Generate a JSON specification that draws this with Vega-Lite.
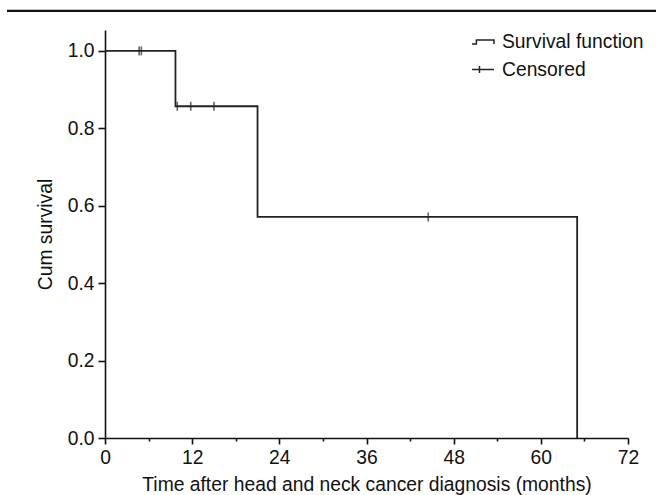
{
  "$schema": "https://vega.github.io/schema/vega-lite/v6.json",
  "autosize": "none",
  "padding": {"left": 105, "top": 30, "right": 28, "bottom": 57},
  "width": 523,
  "height": 408,
  "background": "white",
  "config": {
    "view": {"stroke": null},
    "font": "Liberation Sans",
    "axis": {
      "labelFont": "Liberation Sans",
      "titleFont": "Liberation Sans",
      "labelFontSize": 19.3,
      "titleFontSize": 19.3,
      "titleFontWeight": "normal",
      "labelColor": "#111",
      "titleColor": "#111",
      "domainColor": "#111",
      "tickColor": "#111",
      "domainWidth": 1.6,
      "tickWidth": 1.6,
      "grid": false
    }
  },
  "datasets": {
    "km": [
      {"time": 0, "surv": 1.0},
      {"time": 9.7, "surv": 0.857},
      {"time": 21, "surv": 0.571},
      {"time": 65, "surv": 0.0}
    ],
    "censored": [
      {"time": 4.7, "surv": 1.0},
      {"time": 5.0, "surv": 1.0},
      {"time": 9.95, "surv": 0.857},
      {"time": 11.8, "surv": 0.857},
      {"time": 15.0, "surv": 0.857},
      {"time": 44.5, "surv": 0.571}
    ]
  },
  "layer": [
    {
      "data": {"name": "km"},
      "mark": {"type": "line", "interpolate": "step-after", "color": "#222", "strokeWidth": 1.8},
      "encoding": {
        "x": {
          "field": "time", "type": "quantitative",
          "scale": {"domain": [0, 72], "nice": false, "zero": false},
          "axis": {
            "title": "Time after head and neck cancer diagnosis (months)",
            "values": [0, 6, 12, 18, 24, 30, 36, 42, 48, 54, 60, 66, 72],
            "labelExpr": "datum.value % 12 === 0 ? datum.label : ''",
            "tickSize": {"condition": {"test": "datum.value % 12 === 0", "value": 6}, "value": 3},
            "labelPadding": 4,
            "labelFlush": false,
            "titlePadding": 8
          }
        },
        "y": {
          "field": "surv", "type": "quantitative",
          "scale": {"domain": [0, 1.054], "nice": false, "zero": true},
          "axis": {
            "title": "Cum survival",
            "values": [0, 0.2, 0.4, 0.6, 0.8, 1.0],
            "format": ".1f",
            "tickSize": 7,
            "labelPadding": 4,
            "titlePadding": 12
          }
        }
      }
    },
    {
      "data": {"name": "censored"},
      "mark": {"type": "tick", "orient": "vertical", "size": 9, "thickness": 1.6, "color": "#222"},
      "encoding": {
        "x": {"field": "time", "type": "quantitative"},
        "y": {"field": "surv", "type": "quantitative"}
      }
    },
    {
      "data": {"name": "censored"},
      "mark": {"type": "point", "opacity": 0, "filled": false, "color": "#222"},
      "encoding": {
        "x": {"field": "time", "type": "quantitative"},
        "y": {"field": "surv", "type": "quantitative"},
        "shape": {
          "datum": "Censored",
          "type": "nominal",
          "scale": {
            "domain": ["Survival function", "Censored"],
            "range": ["M-1,0.18H-0.6V-0.18H1V0.18", "M-1,0H1M-0.32,-0.32V0.32"]
          },
          "legend": {
            "title": null,
            "orient": "none",
            "legendX": 366,
            "legendY": 0,
            "padding": 0,
            "symbolSize": 484,
            "symbolOpacity": 1,
            "symbolStrokeColor": "#222",
            "symbolStrokeWidth": 1.5,
            "symbolFillColor": "transparent",
            "labelFont": "Liberation Sans",
            "labelFontSize": 19.3,
            "labelColor": "#111",
            "labelOffset": 7,
            "rowPadding": 4.5,
            "labelLimit": 300
          }
        }
      }
    },
    {
      "data": {"values": [{}]},
      "mark": {"type": "rule", "color": "#111", "strokeWidth": 2.3},
      "encoding": {
        "x": {"datum": -13.5, "type": "quantitative"},
        "x2": {"datum": 75.85},
        "y": {"datum": 1.1034, "type": "quantitative"}
      }
    }
  ]
}
